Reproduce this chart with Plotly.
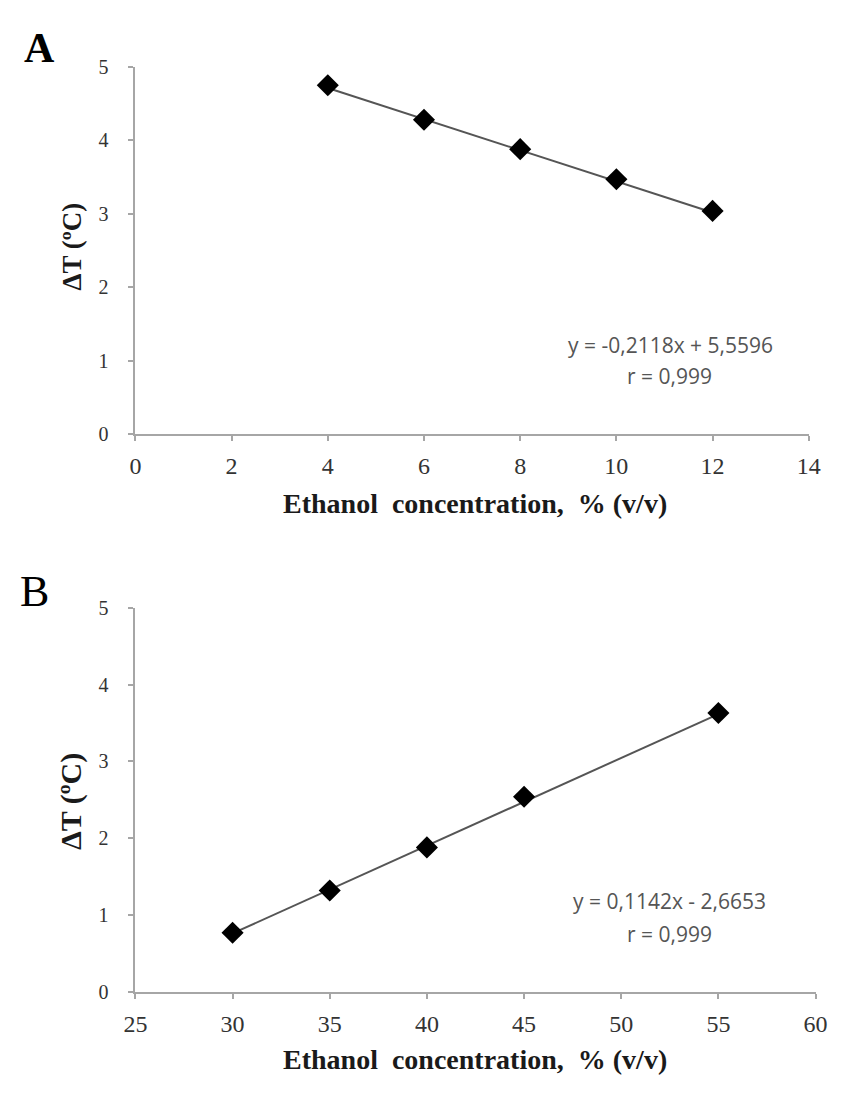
import plotly.graph_objects as go

# Panel A data
a_x = [4, 6, 8, 10, 12]
a_y = [4.75, 4.28, 3.88, 3.47, 3.04]
a_slope, a_intercept = -0.2118, 5.5596
a_eq = "y = -0,2118x + 5,5596"

# Panel B data
b_x = [30, 35, 40, 45, 55]
b_y = [0.77, 1.32, 1.88, 2.54, 3.63]
b_slope, b_intercept = 0.1142, -2.6653
b_eq = "y = 0,1142x - 2,6653"

r_text = "r = 0,999"
x_title = "Ethanol  concentration,  % (v/v)"
y_title = "ΔT (ºC)"

W, H = 847, 1093
def py(p):
    return 1 - p / H
def px(p):
    return p / W

fig = go.Figure()

# trendlines
for xs, m, c, xa, ya in [(a_x, a_slope, a_intercept, "x", "y"), (b_x, b_slope, b_intercept, "x2", "y2")]:
    lx = [min(xs), max(xs)]
    ly = [m * v + c for v in lx]
    fig.add_trace(go.Scatter(x=lx, y=ly, mode="lines", line=dict(color="#555555", width=2),
                             xaxis=xa, yaxis=ya, showlegend=False, hoverinfo="skip"))

fig.add_trace(go.Scatter(x=a_x, y=a_y, mode="markers",
                         marker=dict(symbol="diamond", size=17, color="black"),
                         xaxis="x", yaxis="y", showlegend=False))
fig.add_trace(go.Scatter(x=b_x, y=b_y, mode="markers",
                         marker=dict(symbol="diamond", size=17, color="black"),
                         xaxis="x2", yaxis="y2", showlegend=False))

SERIF = "Liberation Serif, Times New Roman, serif"
axis_common = dict(showline=True, linecolor="#a6a6a6", linewidth=2, ticks="outside",
                   ticklen=5, tickcolor="#a6a6a6", tickwidth=2, showgrid=False, zeroline=False)
xtickfont = dict(family=SERIF, size=24, color="#333333")
ytickfont = dict(family=SERIF, size=20, color="#333333")

fig.update_layout(
    width=W, height=H, margin=dict(l=0, r=0, t=0, b=0),
    paper_bgcolor="white", plot_bgcolor="white",
    xaxis=dict(domain=[px(127), px(820)], range=[0, 14], dtick=2, anchor="y",
               tickfont=xtickfont, ticklabelstandoff=4, **axis_common),
    yaxis=dict(domain=[py(432), py(57)], range=[0, 5], dtick=1, anchor="x",
               tickfont=ytickfont, ticklabelstandoff=16, **axis_common),
    xaxis2=dict(domain=[px(127), px(827)], range=[25, 60], dtick=5, anchor="y2",
                tickfont=xtickfont, ticklabelstandoff=4, **axis_common),
    yaxis2=dict(domain=[py(1001), py(609)], range=[0, 5], dtick=1, anchor="x2",
                tickfont=ytickfont, ticklabelstandoff=16, **axis_common),
)

titlefont = dict(family=SERIF, size=28, color="#1a1a1a")
eqfont = dict(family="Open Sans", size=21, color="#555555")
annotations = [
    dict(text="<b>A</b>", x=px(10), y=py(12), xanchor="left", yanchor="top",
         font=dict(family=SERIF, size=42, color="black")),
    dict(text="B", x=px(6), y=py(565), xanchor="left", yanchor="top",
         font=dict(family=SERIF, size=44, color="black")),
    dict(text="<b>" + x_title + "</b>", x=px(476), y=py(503), xanchor="center", yanchor="middle", font=titlefont),
    dict(text="<b>" + x_title + "</b>", x=px(476), y=py(1070), xanchor="center", yanchor="middle", font=titlefont),
    dict(text="<b>" + y_title + "</b>", x=px(62), y=py(240), xanchor="center", yanchor="middle",
         textangle=-90, font=dict(family=SERIF, size=27, color="#1a1a1a")),
    dict(text="<b>" + y_title + "</b>", x=px(60), y=py(807), xanchor="center", yanchor="middle",
         textangle=-90, font=dict(family=SERIF, size=30, color="#1a1a1a")),
    dict(text=a_eq, x=px(678), y=py(341), xanchor="center", yanchor="middle", font=eqfont),
    dict(text=r_text, x=px(677), y=py(372), xanchor="center", yanchor="middle", font=eqfont),
    dict(text=b_eq, x=px(677), y=py(908), xanchor="center", yanchor="middle", font=eqfont),
    dict(text=r_text, x=px(677), y=py(942), xanchor="center", yanchor="middle", font=eqfont),
]
for a in annotations:
    a.update(xref="paper", yref="paper", showarrow=False)
fig.update_layout(annotations=annotations)

fig.write_html("out.html")
